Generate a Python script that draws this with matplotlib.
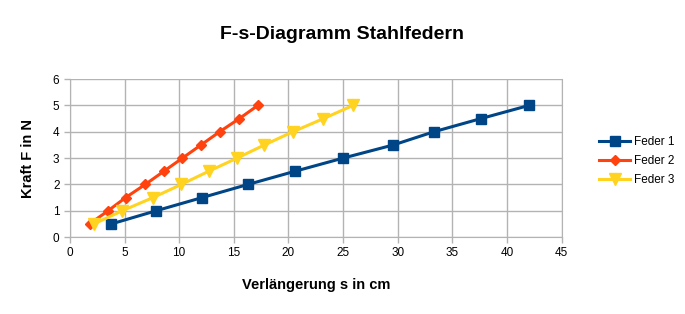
import matplotlib
matplotlib.use("Agg")
import matplotlib.pyplot as plt

force = [0.5, 1, 1.5, 2, 2.5, 3, 3.5, 4, 4.5, 5]
feder1_s = [3.8, 7.9, 12.1, 16.3, 20.6, 25.0, 29.6, 33.3, 37.6, 42.0]
feder2_s = [1.8, 3.5, 5.1, 6.9, 8.6, 10.3, 12.0, 13.7, 15.5, 17.2]
feder3_s = [2.2, 4.8, 7.6, 10.2, 12.7, 15.3, 17.8, 20.4, 23.2, 25.9]
labels = ["Feder 1", "Feder 2", "Feder 3"]
colors = ["#004586", "#ff420e", "#ffd320"]

plt.rcParams['font.family'] = ['Liberation Sans', 'DejaVu Sans']
fig = plt.figure(figsize=(6.85, 3.14), dpi=100)
ax = fig.add_axes([0.102, 0.245, 0.718, 0.503])

ax.plot(feder1_s, force, color=colors[0], lw=2.2, marker='s', ms=7, label=labels[0])
ax.plot(feder2_s, force, color=colors[1], lw=2.2, marker='D', ms=5.5, label=labels[1])
ax.plot(feder3_s, force, color=colors[2], lw=2.2, marker='v', ms=8, label=labels[2])

ax.set_xlim(0, 45)
ax.set_ylim(0, 6)
ax.set_xticks(range(0, 46, 5))
ax.set_yticks(range(0, 7))
ax.grid(True, color='#b3b3b3', lw=1)
ax.set_axisbelow(True)
for sp in ax.spines.values():
    sp.set_color('#b3b3b3')
ax.spines['top'].set_visible(False)
ax.tick_params(colors='#b3b3b3', labelcolor='black', labelsize=8.5, length=4, width=1)

ax.set_xlabel("Verlängerung s in cm", fontsize=10.5, fontweight='bold', labelpad=13)
ax.set_ylabel("Kraft F in N", fontsize=10.5, fontweight='bold', labelpad=13)
fig.text(0.5, 0.889, "F-s-Diagramm Stahlfedern", ha='center', va='center',
         fontsize=14, fontweight='bold')

ax.legend(loc='center left', bbox_to_anchor=(1.055, 0.48), frameon=False,
          fontsize=8.5, handlelength=2.6, labelspacing=0.6, handletextpad=0.3)

fig.savefig("out.png", dpi=100)
